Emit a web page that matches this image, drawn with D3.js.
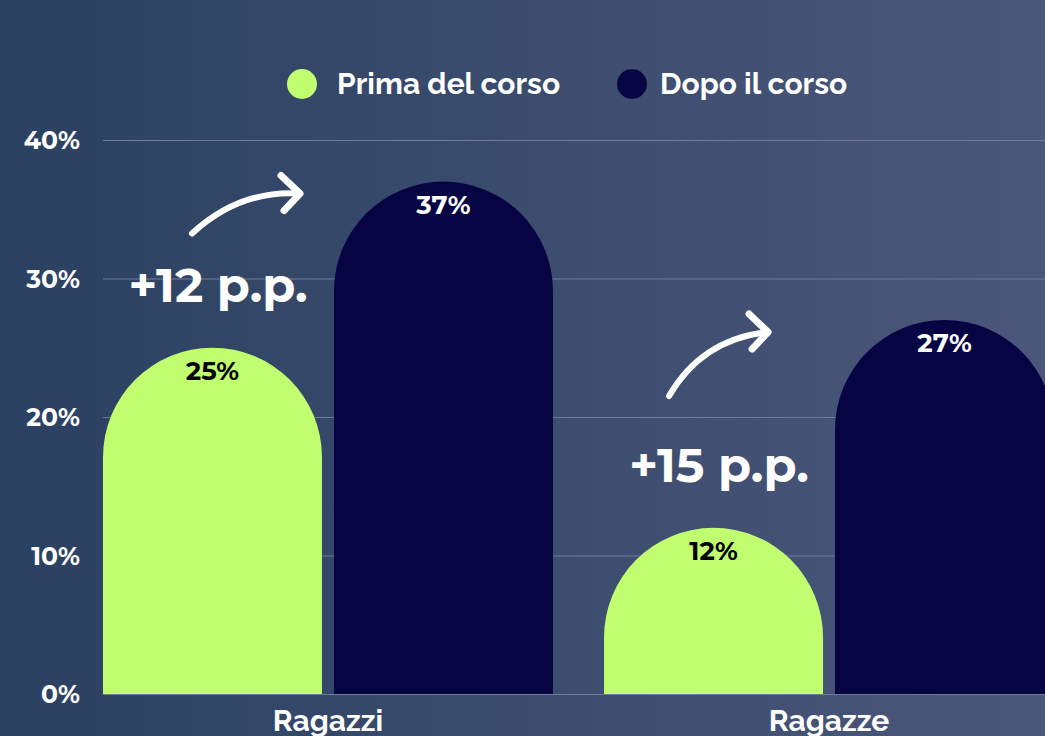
<!DOCTYPE html>
<html>
<head>
<meta charset="utf-8">
<script src="https://cdn.jsdelivr.net/npm/d3@7"></script>
<style>
  html, body { margin: 0; padding: 0; background: #2c4262; }
  #chart { width: 1045px; height: 736px; overflow: hidden; }
  text { font-family: Montserrat, Lato, "Open Sans", sans-serif; }
</style>
</head>
<body>
<div id="chart"></div>
<script>
const categories = ['Ragazzi', 'Ragazze'];
const seriesNames = ['Prima del corso', 'Dopo il corso'];
const prima = [25, 12];
const dopo = [37, 27];
const yTicks = [0, 10, 20, 30, 40];
const deltas = ['+12 p.p.', '+15 p.p.'];

const colors = {'Prima del corso': '#c1fe6f', 'Dopo il corso': '#070444'};
const labelColors = {'Prima del corso': '#000000', 'Dopo il corso': '#ffffff'};

const W = 1045, H = 736;

const svg = d3.select('#chart')
    .append('svg')
    .attr('width', W)
    .attr('height', H);

// Sfondo sfumato
const defs = svg.append('defs');
const grad = defs.append('linearGradient')
    .attr('id', 'bg')
    .attr('x1', '0%').attr('x2', '100%')
    .attr('y1', '0%').attr('y2', '0%');
grad.append('stop').attr('offset', '0%').attr('stop-color', '#2b4161');
grad.append('stop').attr('offset', '100%').attr('stop-color', '#4b577a');
svg.append('rect')
    .attr('width', W).attr('height', H)
    .attr('fill', 'url(#bg)');

// Scale
const x0 = d3.scaleBand()
    .domain(categories)
    .range([103, 1054])
    .paddingInner(0.102)
    .paddingOuter(0);

const x1 = d3.scaleBand()
    .domain(seriesNames)
    .range([0, x0.bandwidth()])
    .paddingInner(0.052);

const y = d3.scaleLinear()
    .domain([0, 40])
    .range([694, 140]);

// Griglia
svg.append('g')
    .selectAll('line')
    .data(yTicks)
    .enter()
    .append('line')
    .attr('x1', 103)
    .attr('x2', W)
    .attr('y1', d => y(d) + 0.5)
    .attr('y2', d => y(d) + 0.5)
    .attr('stroke', '#6f7d99')
    .attr('stroke-width', 1);

// Etichette asse Y
svg.append('g')
    .selectAll('text')
    .data(yTicks)
    .enter()
    .append('text')
    .attr('x', 80)
    .attr('y', d => y(d))
    .attr('dy', '0.36em')
    .attr('text-anchor', 'end')
    .attr('fill', '#ffffff')
    .style('font-size', '25px')
    .style('font-weight', 700)
    .text(d => d + '%');

// Dati per le barre
const barData = [];
categories.forEach((c, i) => {
    barData.push({cat: c, series: 'Prima del corso', value: prima[i]});
    barData.push({cat: c, series: 'Dopo il corso', value: dopo[i]});
});

function roundedTop(d) {
    const bx = x0(d.cat) + x1(d.series);
    const bw = x1.bandwidth();
    const top = y(d.value);
    const base = y(0);
    const r = bw / 2;
    const p = d3.path();
    p.moveTo(bx, base);
    p.lineTo(bx, top + r);
    p.arc(bx + r, top + r, r, Math.PI, 2 * Math.PI);
    p.lineTo(bx + bw, base);
    p.closePath();
    return p.toString();
}

const bars = svg.append('g');
bars.selectAll('path')
    .data(barData)
    .enter()
    .append('path')
    .attr('d', roundedTop)
    .attr('fill', d => colors[d.series]);

bars.selectAll('text')
    .data(barData)
    .enter()
    .append('text')
    .attr('x', d => x0(d.cat) + x1(d.series) + x1.bandwidth() / 2)
    .attr('y', d => y(d.value) + 32)
    .attr('text-anchor', 'middle')
    .attr('fill', d => labelColors[d.series])
    .style('font-size', '26px')
    .style('font-weight', 700)
    .text(d => d.value + '%');

// Etichette categorie
svg.append('g')
    .selectAll('text')
    .data(categories)
    .enter()
    .append('text')
    .attr('x', d => x0(d) + x0.bandwidth() / 2)
    .attr('y', 731)
    .attr('text-anchor', 'middle')
    .attr('fill', '#ffffff')
    .style('font-size', '30px')
    .style('font-weight', 700)
    .style('font-family', 'Raleway, Lato, sans-serif')
    .text(d => d);

// Annotazioni: frecce e differenze
const ann = svg.append('g');
const arrowStart = [[89, 52], [65, 76]];
const arrowCtrl = [[48, 8], [33, 19]];
const arrowEnd = [[197, 12], [164, 12]];
categories.forEach((c, i) => {
    const gx = x0(c);
    const yPrima = y(prima[i]);
    const yDopo = y(dopo[i]);

    ann.append('text')
        .attr('x', gx + 115)
        .attr('y', yPrima - 46)
        .attr('text-anchor', 'middle')
        .attr('fill', '#ffffff')
        .style('font-size', '48px')
        .style('font-weight', 700)
        .text(deltas[i]);

    const sx = gx + arrowStart[i][0], sy = yDopo + arrowStart[i][1];
    const cx = gx + arrowCtrl[i][0] + arrowStart[i][0], cy = yDopo + arrowCtrl[i][1];
    const ex = gx + arrowEnd[i][0], ey = yDopo + arrowEnd[i][1];
    ann.append('path')
        .attr('d', `M${sx},${sy} Q${cx},${cy} ${ex},${ey}`)
        .attr('fill', 'none')
        .attr('stroke', '#ffffff')
        .attr('stroke-width', 6)
        .attr('stroke-linecap', 'round');
    ann.append('path')
        .attr('d', `M${ex - 19},${ey - 18} L${ex},${ey} L${ex - 16},${ey + 17}`)
        .attr('fill', 'none')
        .attr('stroke', '#ffffff')
        .attr('stroke-width', 7)
        .attr('stroke-linecap', 'round')
        .attr('stroke-linejoin', 'round');
});

// Legenda
const legendX = [302, 632];
const legendGap = [35, 28];
const legend = svg.append('g');
seriesNames.forEach((s, i) => {
    legend.append('circle')
        .attr('cx', legendX[i])
        .attr('cy', 84)
        .attr('r', 15)
        .attr('fill', colors[s]);
    legend.append('text')
        .attr('x', legendX[i] + legendGap[i])
        .attr('y', 94)
        .attr('fill', '#ffffff')
        .style('font-size', '30px')
        .style('font-weight', 700)
        .style('font-family', 'Raleway, Lato, sans-serif')
        .text(s);
});
</script>
</body>
</html>
